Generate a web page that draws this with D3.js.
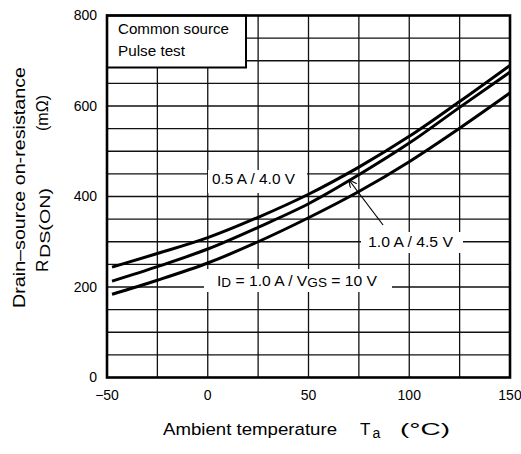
<!DOCTYPE html>
<html>
<head>
<meta charset="utf-8">
<script src="https://cdn.jsdelivr.net/npm/d3@7"></script>
<style>
  body { margin: 0; background: #fff; }
  text { font-family: "Liberation Sans", Arial, sans-serif; fill: #000; }
</style>
</head>
<body>
<svg id="chart" width="521" height="454"></svg>
<script>
// values
const temps = [-47.5, -25, 0, 25, 50, 75, 100, 125, 150];
const rdsLow = [244, 274, 309, 354, 405, 465, 533, 610, 690];   // 0.5 A / 4.0 V
const rdsMid = [213, 245, 284, 332, 384, 448, 518, 597, 675];   // 1.0 A / 4.5 V
const rdsHigh = [184, 215, 253, 300, 353, 411, 477, 551, 629];  // 1.0 A / 10 V
const xTicks = [-50, 0, 50, 100, 150];
const xTickLabels = ['\u221250', '0', '50', '100', '150'];
const yTicks = [0, 200, 400, 600, 800];
const arrowFrom = [87, 337];
const arrowTo = [70, 437];

const margin = {top: 15.5, right: 11, bottom: 76.5, left: 107};
const svg = d3.select('#chart');
const width = svg.attr('width') - margin.left - margin.right;
const height = svg.attr('height') - margin.top - margin.bottom;
const g = svg.append('g').attr('transform', `translate(${margin.left},${margin.top})`);

const x = d3.scaleLinear().domain([-50, 150]).range([0, width]);
const y = d3.scaleLinear().domain([0, 800]).range([height, 0]);

// grid
g.append('g').selectAll('line').data(d3.range(-25, 150, 25)).join('line')
  .attr('x1', d => x(d)).attr('x2', d => x(d))
  .attr('y1', 0).attr('y2', height)
  .attr('stroke', '#111').attr('stroke-width', 1.3);
g.append('g').selectAll('line').data(d3.range(50, 800, 50)).join('line')
  .attr('x1', 0).attr('x2', width)
  .attr('y1', d => y(d)).attr('y2', d => y(d))
  .attr('stroke', '#111').attr('stroke-width', 1.3);

// curves
const line = d3.line().x(d => x(d[0])).y(d => y(d[1])).curve(d3.curveMonotoneX);
[rdsLow, rdsMid, rdsHigh].forEach(vals => {
  g.append('path')
    .datum(temps.map((t, i) => [t, vals[i]]))
    .attr('d', line)
    .attr('fill', 'none')
    .attr('stroke', '#000')
    .attr('stroke-width', 3);
});

// white label boxes (page coords)
const boxes = [
  [101, 154.5, 99, 23],   // 0.5 A / 4.0 V
  [254, 216.5, 102, 21],  // 1.0 A / 4.5 V
  [97, 253.5, 188, 23]    // ID = ...
];
g.append('g').selectAll('rect').data(boxes).join('rect')
  .attr('x', d => d[0]).attr('y', d => d[1])
  .attr('width', d => d[2]).attr('height', d => d[3])
  .attr('fill', '#fff');

// legend box
g.append('rect')
  .attr('x', 0).attr('y', 0).attr('width', 139).attr('height', 52)
  .attr('fill', '#fff').attr('stroke', '#000').attr('stroke-width', 2);
g.append('text').attr('x', 11).attr('y', 18.5)
  .attr('font-size', 15).attr('textLength', 111).attr('lengthAdjust', 'spacingAndGlyphs')
  .text('Common source');
g.append('text').attr('x', 11).attr('y', 40.5)
  .attr('font-size', 15).attr('textLength', 67).attr('lengthAdjust', 'spacingAndGlyphs')
  .text('Pulse test');

// annotations
g.append('text').attr('x', 105).attr('y', 168.5)
  .attr('font-size', 15).attr('textLength', 83).attr('lengthAdjust', 'spacingAndGlyphs')
  .text('0.5 A / 4.0 V');
g.append('text').attr('x', 261).attr('y', 231.5)
  .attr('font-size', 15).attr('textLength', 85).attr('lengthAdjust', 'spacingAndGlyphs')
  .text('1.0 A / 4.5 V');
const idText = g.append('text').attr('x', 110).attr('y', 270.5)
  .attr('font-size', 15).attr('textLength', 160).attr('lengthAdjust', 'spacingAndGlyphs');
idText.append('tspan').text('I');
idText.append('tspan').attr('font-size', 13).attr('dy', 1).text('D');
idText.append('tspan').attr('dy', -1).text(' = 1.0 A / V');
idText.append('tspan').attr('font-size', 13).attr('dy', 1).text('GS');
idText.append('tspan').attr('dy', -1).text(' = 10 V');

// arrow
svg.append('defs').append('marker')
  .attr('id', 'head').attr('viewBox', '0 0 10 10')
  .attr('refX', 10).attr('refY', 5)
  .attr('markerWidth', 8).attr('markerHeight', 8)
  .attr('markerUnits', 'userSpaceOnUse')
  .attr('orient', 'auto')
  .append('path').attr('d', 'M0,0 L10,5 L0,10')
  .attr('fill', 'none').attr('stroke', '#000').attr('stroke-width', 1.4);
g.append('line')
  .attr('x1', x(arrowFrom[0])).attr('y1', y(arrowFrom[1]))
  .attr('x2', x(arrowTo[0])).attr('y2', y(arrowTo[1]))
  .attr('stroke', '#000').attr('stroke-width', 1.2)
  .attr('marker-end', 'url(#head)');

// frame
g.append('rect').attr('width', width).attr('height', height)
  .attr('fill', 'none').attr('stroke', '#000').attr('stroke-width', 2.6);

// axes labels
g.append('g').selectAll('text').data(xTicks).join('text')
  .attr('x', d => x(d)).attr('y', height + 22)
  .attr('text-anchor', 'middle').attr('font-size', 14)
  .text((d, i) => xTickLabels[i]);
g.append('g').selectAll('text').data(yTicks).join('text')
  .attr('x', -10).attr('y', d => y(d)).attr('dy', '0.35em')
  .attr('text-anchor', 'end').attr('font-size', 14)
  .text(d => d);

// x title
svg.append('text').attr('x', 163).attr('y', 435)
  .attr('font-size', 17).attr('textLength', 174).attr('lengthAdjust', 'spacingAndGlyphs')
  .text('Ambient temperature');
svg.append('text').attr('x', 360).attr('y', 435).attr('font-size', 17).text('T');
svg.append('text').attr('x', 372.5).attr('y', 438).attr('font-size', 14).text('a');
svg.append('text').attr('x', 400).attr('y', 435)
  .attr('font-size', 17).attr('textLength', 50).attr('lengthAdjust', 'spacingAndGlyphs')
  .text('(\u00b0C)');

// y title
const yt1 = svg.append('g').attr('transform', 'translate(25,0) rotate(-90)');
yt1.append('text').attr('x', -308).attr('y', 0)
  .attr('font-size', 17).attr('textLength', 241).attr('lengthAdjust', 'spacingAndGlyphs')
  .text('Drain\u2013source on-resistance');
const yt2 = svg.append('g').attr('transform', 'translate(48,0) rotate(-90)');
yt2.append('text').attr('x', -272).attr('y', 0).attr('font-size', 17).text('R');
yt2.append('text').attr('x', -258).attr('y', 1.5)
  .attr('font-size', 14).attr('textLength', 70).attr('lengthAdjust', 'spacingAndGlyphs')
  .text('DS(ON)');
yt2.append('text').attr('x', -131).attr('y', 0)
  .attr('font-size', 17).attr('textLength', 36).attr('lengthAdjust', 'spacingAndGlyphs')
  .text('(m\u03a9)');
</script>
</body>
</html>
